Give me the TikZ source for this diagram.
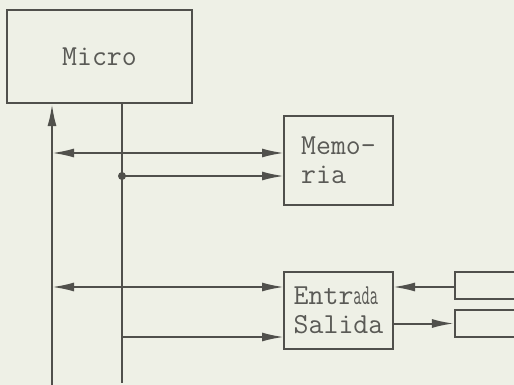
\documentclass[tikz,border=0pt]{standalone}
\usepackage{fontspec}
\setmonofont{Latin Modern Mono}
\usetikzlibrary{arrows.meta}
\definecolor{paper}{RGB}{238,240,230}
\definecolor{ink}{RGB}{80,80,76}
\definecolor{txt}{RGB}{90,90,86}
\tikzset{
  box/.style={draw=ink, line width=2.2pt, rectangle, inner sep=0pt, align=left,
    text=txt, font=\ttfamily\fontsize{29}{29}\selectfont},
  wire/.style={draw=ink, line width=2pt},
  tip/.tip={Latex[length=22pt,width=9pt]},
  arr/.style={wire, -tip},
  arr2/.style={wire, tip-tip}
}
\begin{document}
\begin{tikzpicture}[x=1pt,y=-1pt]
\fill[paper] (0,0) rectangle (514,385);
\useasboundingbox (0,0) rectangle (514,385);
\clip (0,0) rectangle (514,385);
\node[box, minimum width=185pt, minimum height=93pt] (micro) at (99.5,56.5) {Micro};
\node[box, minimum width=109pt, minimum height=89pt] (mem) at (338.5,160.5) {Memo-\\ria};
\node[box, minimum width=109pt, minimum height=77pt] (io) at (338.5,310.5) {Entr\scalebox{0.55}[1]{ada}\\Salida};
\node[box, minimum width=90pt, minimum height=27pt] (dev1) at (500,285.5) {};
\node[box, minimum width=90pt, minimum height=27pt] (dev2) at (500,323.5) {};
\coordinate (busL) at (52,385);
\coordinate (busR) at (122,383);
\coordinate (m1) at (284,153);
\coordinate (m2) at (284,176);
\coordinate (e1) at (284,287);
\coordinate (e2) at (284,337);
\coordinate (o1) at (393,287);
\coordinate (o2) at (393,323.5);
\draw[arr] (busL) -- (busL |- micro.south);
\draw[wire] (busR |- micro.south) -- (busR);
\draw[arr2] (m1 -| busL) -- (m1);
\draw[arr] (m2 -| busR) -- (m2);
\fill[ink] (m2 -| busR) circle (4pt);
\draw[arr2] (e1 -| busL) -- (e1);
\draw[arr] (e2 -| busR) -- (e2);
\draw[arr] (dev1.west |- o1) -- (o1);
\draw[arr] (o2) -- (dev2.west);
\end{tikzpicture}
\end{document}
